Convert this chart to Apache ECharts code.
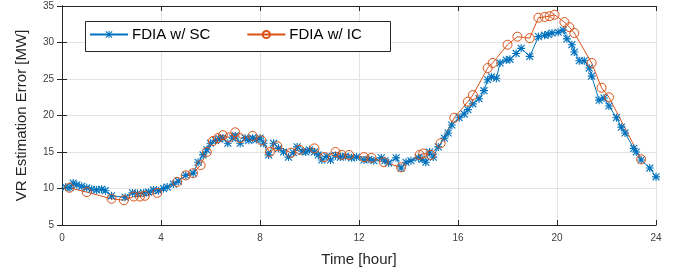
<!DOCTYPE html>
<html>
<head>
<meta charset="utf-8">
<script src="https://cdn.jsdelivr.net/npm/echarts@6/dist/echarts.min.js"></script>
<style>html,body{margin:0;padding:0;background:#fff}#c{width:681px;height:274px}</style>
</head>
<body>
<div id="c"></div>
<script>
const xTicks = [0, 4, 8, 12, 16, 20, 24];
const yTicks = [5, 10, 15, 20, 25, 30, 35];
const seriesNames = ['FDIA w/ SC', 'FDIA w/ IC'];

const scTime = [0.15,0.32,0.45,0.6,0.8,1.0,1.2,1.4,1.6,1.75,2.0,2.55,2.85,3.05,3.3,3.5,3.7,3.9,4.1,4.25,4.5,4.7,5.0,5.3,5.5,5.7,5.85,6.0,6.2,6.35,6.5,6.7,6.9,7.0,7.2,7.4,7.55,7.7,7.85,8.0,8.15,8.35,8.55,8.75,8.95,9.15,9.35,9.5,9.7,9.85,10.0,10.2,10.35,10.5,10.7,10.85,11.05,11.25,11.45,11.7,11.9,12.2,12.4,12.6,12.9,13.05,13.2,13.5,13.7,13.9,14.1,14.4,14.55,14.7,14.85,15.0,15.2,15.45,15.6,15.75,16.05,16.25,16.4,16.6,16.85,17.05,17.2,17.35,17.55,17.7,17.95,18.1,18.35,18.55,18.9,19.25,19.5,19.65,19.8,20.05,20.25,20.4,20.6,20.7,20.9,21.1,21.3,21.4,21.7,21.9,22.1,22.4,22.6,22.75,23.1,23.2,23.4,23.75,24.0];
const scError = [10.2,10.1,10.75,10.5,10.3,10.1,9.9,9.8,9.9,9.7,9.0,8.8,9.4,9.3,9.4,9.5,9.8,9.7,10.0,10.2,10.6,11.0,11.8,12.1,13.6,14.6,15.3,16.2,16.6,16.8,16.9,16.2,16.9,17.2,16.2,16.9,16.6,16.9,16.7,16.9,16.2,14.6,16.2,15.5,15.0,14.3,14.9,15.7,15.1,15.0,15.3,15.0,14.6,13.9,14.4,13.9,14.5,14.3,14.4,14.2,14.3,13.9,14.0,13.8,14.2,13.8,13.5,14.2,12.8,13.6,13.8,14.2,14.0,13.6,15.0,14.3,15.7,16.9,17.6,18.7,19.7,20.2,20.8,21.6,22.3,23.4,24.9,25.3,25.1,27.2,27.6,27.7,28.5,29.2,28.1,30.8,31.0,31.1,31.3,31.4,31.7,30.5,29.7,28.7,27.5,27.5,26.5,25.4,22.1,22.4,21.3,19.7,18.4,17.6,15.5,15.0,13.9,12.8,11.6];

const icTime = [0.3,1.0,2.0,2.5,2.9,3.15,3.35,3.85,4.65,5.0,5.3,5.6,5.85,6.1,6.3,6.5,6.75,7.0,7.2,7.7,8.05,8.4,8.7,9.25,9.6,10.2,10.6,11.05,11.3,11.6,12.2,12.5,13.0,13.7,14.45,14.6,14.9,15.3,15.85,16.4,16.6,17.2,17.4,18.0,18.4,18.9,19.25,19.5,19.7,19.9,20.3,20.5,20.7,21.4,21.8,22.1,23.4];
const icError = [10.1,9.5,8.6,8.4,8.9,8.9,9.0,9.4,10.9,11.8,12.1,13.2,15.0,16.5,16.9,17.3,17.0,17.7,16.9,17.2,16.6,15.0,15.8,14.9,15.3,15.5,14.3,15.0,14.6,14.6,14.3,14.2,13.6,12.9,14.6,14.8,14.6,16.2,19.7,21.9,22.8,26.5,27.2,29.7,30.8,30.6,33.4,33.5,33.6,33.8,32.8,32.1,31.3,27.2,23.8,22.5,14.0];

const scData = scTime.map((t, i) => [t, scError[i]]);
const icData = icTime.map((t, i) => [t, icError[i]]);

const BLUE = '#0072BD', ORANGE = '#D95319', AX = '#262626';
const FONT = '"Liberation Sans", Arial, Helvetica, sans-serif';
const asterisk = 'path://M4.3 0H5.7V10H4.3Z M0 4.3H10V5.7H0Z M1.2 0.2L9.8 8.8L8.8 9.8L0.2 1.2Z M8.8 0.2L9.8 1.2L1.2 9.8L0.2 8.8Z';

const chart = echarts.init(document.getElementById('c'), null, {renderer: 'canvas'});
const axisCommon = {
  type: 'value',
  axisLine: {show: true, lineStyle: {color: AX, width: 1}},
  axisTick: {show: true, inside: true, length: 5, lineStyle: {color: AX, width: 1}},
  splitLine: {show: false}
};
chart.setOption({
  animation: false,
  backgroundColor: '#fff',
  textStyle: {fontFamily: FONT},
  grid: {left: 62, right: 25, top: 6, bottom: 49, containLabel: false},
  xAxis: [
    Object.assign({}, axisCommon, {
      min: xTicks[0], max: xTicks[xTicks.length - 1], interval: 4, position: 'bottom',
      name: 'Time [hour]', nameLocation: 'middle', nameGap: 27,
      nameTextStyle: {fontFamily: FONT, fontSize: 15, color: AX},
      axisLabel: {color: '#404040', fontSize: 10, margin: 8, fontFamily: FONT},
      splitLine: {show: true, lineStyle: {color: '#e3e3e3', width: 1}}
    }),
    Object.assign({}, axisCommon, {
      min: xTicks[0], max: xTicks[xTicks.length - 1], interval: 4, position: 'top',
      axisLabel: {show: false}
    })
  ],
  yAxis: [
    Object.assign({}, axisCommon, {
      min: yTicks[0], max: yTicks[yTicks.length - 1], interval: 5, position: 'left',
      name: 'VR Estimation Error [MW]', nameLocation: 'middle', nameGap: 33,
      nameTextStyle: {fontFamily: FONT, fontSize: 15, color: AX},
      axisLabel: {color: '#404040', fontSize: 10, margin: 8, fontFamily: FONT},
      splitLine: {show: true, lineStyle: {color: '#e3e3e3', width: 1}}
    }),
    Object.assign({}, axisCommon, {
      min: yTicks[0], max: yTicks[yTicks.length - 1], interval: 5, position: 'right',
      axisLabel: {show: false}
    })
  ],
  graphic: [{
    type: 'rect', z: 10, left: 85, top: 21,
    shape: {width: 305, height: 30},
    style: {fill: '#fff', stroke: AX, lineWidth: 1}
  }],
  legend: {
    z: 20, left: 89, top: 27, padding: 0, itemGap: 36, itemWidth: 38, itemHeight: 9,
    textStyle: {fontFamily: FONT, fontSize: 15, color: '#000', padding: [0, 0, 0, -1]},
    data: seriesNames
  },
  series: [
    {
      name: seriesNames[0], type: 'line', data: scData, xAxisIndex: 0, yAxisIndex: 0,
      symbol: asterisk, symbolSize: 8, showAllSymbol: true,
      lineStyle: {color: BLUE, width: 1},
      itemStyle: {color: BLUE}
    },
    {
      name: seriesNames[1], type: 'line', data: icData, xAxisIndex: 0, yAxisIndex: 0,
      symbol: 'circle', symbolSize: 9, showAllSymbol: true,
      lineStyle: {color: ORANGE, width: 1},
      itemStyle: {color: 'rgba(0,0,0,0)', borderColor: ORANGE, borderWidth: 1}
    }
  ]
});
</script>
</body>
</html>
